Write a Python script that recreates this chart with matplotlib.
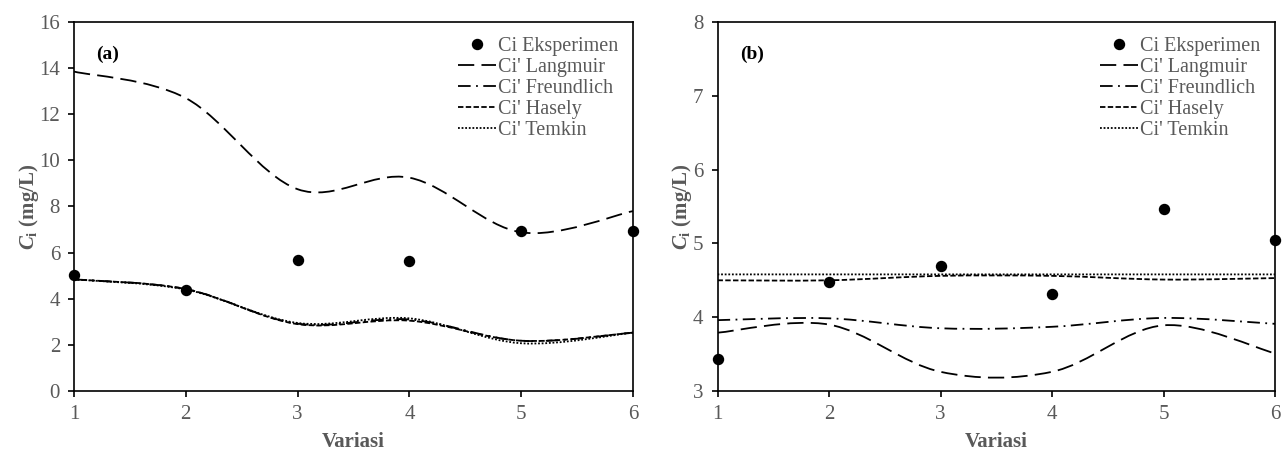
import numpy as np
import matplotlib
matplotlib.use("Agg")
import matplotlib.pyplot as plt
from matplotlib.path import Path
from matplotlib.patches import PathPatch
from matplotlib.lines import Line2D

plt.rcParams['font.family'] = ['Liberation Serif', 'DejaVu Serif']
plt.rcParams['mathtext.fontset'] = 'custom'
plt.rcParams['mathtext.rm'] = 'Liberation Serif:bold'
plt.rcParams['mathtext.it'] = 'Liberation Serif:italic:bold'

GRAY = '#595959'

# data
variasi = [1, 2, 3, 4, 5, 6]

# panel (a)
a_eksp = [5.03, 4.38, 5.67, 5.65, 6.95, 6.94]
a_langmuir = [13.85, 12.7, 8.75, 9.25, 6.88, 7.8]
a_freundlich = [4.84, 4.42, 2.92, 3.10, 2.18, 2.53]
a_hasely = [4.84, 4.42, 2.90, 3.05, 2.18, 2.53]
a_temkin = [4.84, 4.40, 2.95, 3.15, 2.07, 2.53]

# panel (b)
b_eksp = [3.43, 4.48, 4.70, 4.31, 5.47, 5.05]
b_langmuir = [3.79, 3.90, 3.26, 3.26, 3.89, 3.51]
b_freundlich = [3.96, 3.985, 3.85, 3.87, 3.99, 3.91]
b_hasely = [4.50, 4.50, 4.56, 4.56, 4.51, 4.53]
b_temkin = [4.58, 4.58, 4.58, 4.58, 4.58, 4.58]

labels = ["Ci Eksperimen", "Ci' Langmuir", "Ci' Freundlich", "Ci' Hasely", "Ci' Temkin"]
styles = {
    "Ci' Langmuir": (0, (9, 4)),
    "Ci' Freundlich": (0, (7, 3, 1, 3)),
    "Ci' Hasely": (0, (3, 1.3)),
    "Ci' Temkin": (0, (1, 1)),
}
LW = 1.3


def smooth_line(ax, x, y, ls):
    # excel-style smoothed line: bezier segments through the data points
    x = np.asarray(x, float)
    y = np.asarray(y, float)
    pts = np.column_stack([x, y])
    p = np.vstack([pts[0], pts, pts[-1]])
    verts = [tuple(pts[0])]
    codes = [Path.MOVETO]
    for i in range(1, len(p) - 2):
        c1 = p[i] + (p[i + 1] - p[i - 1]) / 6.0
        c2 = p[i + 1] - (p[i + 2] - p[i]) / 6.0
        verts += [tuple(c1), tuple(c2), tuple(p[i + 1])]
        codes += [Path.CURVE4] * 3
    patch = PathPatch(Path(verts, codes), fill=False, edgecolor='black',
                      lw=LW, linestyle=ls, capstyle='butt')
    ax.add_patch(patch)


def panel(ax, eksp, series, ylim, yticks, tag):
    for name, vals in series:
        smooth_line(ax, variasi, vals, styles[name])
    ax.plot(variasi, eksp, 'o', color='black', ms=7.2, clip_on=False, zorder=5)

    ax.set_xlim(1, 6)
    ax.set_ylim(*ylim)
    ax.set_xticks(variasi)
    ax.set_yticks(yticks)
    for s in ax.spines.values():
        s.set_linewidth(1.2)
    ax.tick_params(direction='out', length=4, width=1.2, labelsize=15,
                   labelcolor=GRAY, pad=6)
    ax.set_xlabel('Variasi', fontsize=15, fontweight='bold', color=GRAY, labelpad=6)
    ax.set_ylabel(r'$C_\mathrm{i}$ (mg/L)', fontsize=15, fontweight='bold',
                  color=GRAY, labelpad=-1)
    ax.text(0.04, 0.9, tag, transform=ax.transAxes, fontsize=14,
            fontweight='bold', color='black')

    handles = [Line2D([], [], marker='o', ls='none', color='black', ms=7.2)]
    for name in labels[1:]:
        handles.append(Line2D([], [], color='black', lw=LW, ls=styles[name]))
    leg = ax.legend(handles, labels, loc='upper right', frameon=False,
                    fontsize=14.5, handlelength=1.9, handletextpad=0.08,
                    labelspacing=0.1, borderaxespad=0.2,
                    bbox_to_anchor=(0.995, 0.993))
    for t in leg.get_texts():
        t.set_color(GRAY)


fig = plt.figure(figsize=(12.82, 4.53), dpi=100)
ax1 = fig.add_axes([74 / 1282, 62 / 453, 559 / 1282, 369 / 453])
ax2 = fig.add_axes([717.5 / 1282, 62 / 453, 557.5 / 1282, 369 / 453])

panel(ax1, a_eksp,
      [("Ci' Langmuir", a_langmuir), ("Ci' Freundlich", a_freundlich),
       ("Ci' Hasely", a_hasely), ("Ci' Temkin", a_temkin)],
      (0, 16), range(0, 17, 2), '(a)')
panel(ax2, b_eksp,
      [("Ci' Langmuir", b_langmuir), ("Ci' Freundlich", b_freundlich),
       ("Ci' Hasely", b_hasely), ("Ci' Temkin", b_temkin)],
      (3, 8), range(3, 9), '(b)')

fig.savefig('out.png', dpi=100)
